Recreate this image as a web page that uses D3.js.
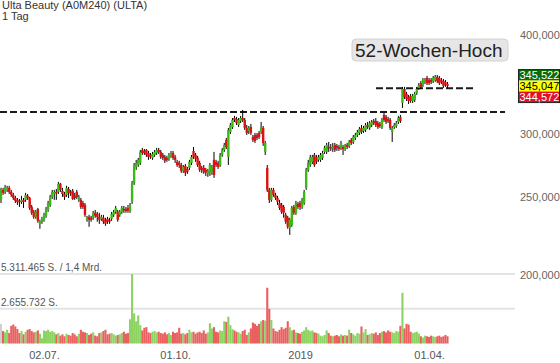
<!DOCTYPE html>
<html><head><meta charset="utf-8">
<script src="https://cdn.jsdelivr.net/npm/d3@7"></script>
<style>html,body{margin:0;padding:0;background:#fff;}svg{display:block;font-family:"Liberation Sans",Arial,sans-serif;}</style>
</head><body><svg id="c" width="560" height="363"></svg>
<script>
const title = "Ulta Beauty (A0M240) (ULTA)";
const subtitle = "1 Tag";
const open = [248.2,255.5,254.0,255.5,257.0,254.0,251.8,249.6,248.2,247.5,
246.8,248.2,248.2,251.1,249.6,243.2,239.7,236.3,241.8,231.6,
233.0,234.3,237.0,241.1,244.6,250.4,252.5,254.0,254.0,260.0,
254.8,252.5,251.8,256.2,254.0,254.8,251.1,254.0,248.2,248.2,
246.0,244.6,234.3,236.3,235.7,235.7,239.1,238.4,236.3,235.0,
235.7,234.3,235.0,234.3,235.0,237.7,239.7,239.7,237.7,239.7,
241.8,241.8,242.5,240.4,246.8,260.7,273.1,274.6,276.2,286.8,
286.0,286.8,284.3,282.7,280.3,282.7,284.3,286.8,285.2,282.7,
281.1,280.3,279.5,281.9,284.3,281.1,277.1,276.2,274.6,269.9,
273.8,271.5,272.3,276.2,286.0,282.7,280.3,276.2,272.3,272.3,
270.7,267.6,268.4,269.2,278.7,277.1,276.2,274.6,282.7,286.8,
295.2,281.1,302.1,306.5,314.6,313.7,308.3,311.9,314.6,312.8,
305.7,303.0,306.5,297.8,299.5,299.5,301.3,302.1,305.7,285.2,
272.3,255.5,248.2,255.5,251.8,249.6,246.0,244.6,243.2,237.7,
235.7,228.9,230.9,243.2,239.1,245.3,246.0,243.2,246.0,257.0,
270.7,274.6,277.1,282.7,281.1,278.7,278.7,280.3,285.2,285.2,
289.3,289.3,288.5,291.0,290.2,289.3,288.5,289.3,287.6,291.0,
290.2,295.2,293.5,296.9,299.5,301.3,305.7,303.0,303.9,308.3,
305.7,308.3,311.9,311.9,310.1,309.2,306.5,317.4,315.6,313.7,
312.8,302.1,306.5,307.4,311.0,315.6,328.6,342.2,337.3,334.4,
335.3,330.5,331.4,338.3,343.2,348.1,346.1,349.2,353.2,351.2,
351.2,350.2,351.2,354.2,353.2,351.2,350.2,349.2,347.1];
const close = [255.5,253.3,257.7,257.0,254.0,251.8,249.6,247.5,246.8,246.8,
248.2,246.8,251.8,249.6,242.5,239.1,236.3,239.7,233.6,233.0,
235.0,237.7,241.8,246.0,250.4,254.0,254.0,253.3,260.0,255.5,
252.5,250.4,257.0,253.3,253.3,248.9,249.6,250.4,250.4,243.2,
243.2,237.7,235.7,234.3,234.3,239.1,237.0,236.3,234.3,236.3,
233.0,231.6,233.0,233.0,238.4,239.7,242.5,234.3,239.7,242.5,
241.1,240.4,240.4,244.6,260.7,274.6,276.2,278.7,285.2,284.3,
284.3,282.7,281.1,281.1,283.5,285.2,286.8,285.2,281.1,280.3,
277.9,278.7,282.7,284.3,280.3,278.7,274.6,274.6,269.9,273.1,
268.4,269.2,277.1,281.1,281.1,279.5,274.6,270.7,270.7,269.2,
268.4,269.9,274.6,273.1,266.8,274.6,273.1,282.7,286.8,291.0,
289.3,303.9,308.3,312.8,312.8,310.1,312.8,314.6,312.8,305.7,
301.3,305.7,301.3,295.2,294.4,296.9,297.8,306.5,292.7,292.7,
255.5,248.2,255.5,251.8,249.6,246.8,242.5,239.7,239.1,233.0,
229.6,234.3,242.5,239.1,246.0,243.2,243.2,248.2,254.0,270.7,
276.2,281.1,281.1,274.6,277.1,281.1,282.7,284.3,288.5,291.0,
288.5,288.5,289.3,286.8,288.5,287.6,292.7,287.6,290.2,289.3,
293.5,292.7,297.8,299.5,302.1,304.8,302.1,305.7,308.3,306.5,
310.1,311.0,310.1,308.3,306.5,307.4,312.8,312.8,311.0,311.9,
305.7,305.7,308.3,310.1,314.6,311.9,342.2,334.4,332.4,330.5,
330.5,335.3,337.3,342.2,346.1,344.2,351.2,351.2,348.1,348.1,
349.2,353.2,354.2,350.2,348.1,349.2,345.1,346.1,345.047];
const high = [257.0,257.0,259.2,258.5,258.5,255.5,253.3,251.1,249.6,248.9,
251.1,249.6,253.3,252.5,250.4,244.6,241.1,241.1,242.5,234.3,
236.3,239.1,243.2,247.5,251.8,255.5,255.5,256.2,261.5,260.7,
257.0,254.0,258.5,257.7,255.5,256.2,253.3,255.5,251.8,249.6,
247.5,246.0,237.0,237.7,237.0,240.4,241.1,239.7,239.1,237.7,
237.7,235.7,236.3,235.7,239.7,241.1,243.9,241.1,241.1,243.9,
243.9,243.2,244.6,246.0,262.2,276.2,278.7,280.3,286.8,288.5,
287.6,287.6,286.0,284.3,285.2,286.8,288.5,288.5,286.8,284.3,
282.7,281.9,284.3,286.0,286.0,282.7,278.7,277.9,276.2,274.6,
275.4,273.1,278.7,282.7,289.3,284.3,281.9,277.9,273.8,274.6,
272.3,271.5,276.2,274.6,285.2,278.7,277.9,284.3,288.5,292.7,
296.9,305.7,310.1,314.6,316.5,315.6,314.6,316.5,322.0,314.6,
308.3,307.4,309.2,299.5,301.3,301.3,303.0,311.0,307.4,294.4,
274.6,257.0,257.0,257.0,253.3,251.1,248.2,246.0,244.6,239.1,
237.0,235.7,243.9,244.6,247.5,246.8,247.5,249.6,255.5,272.3,
278.7,282.7,282.7,284.3,282.7,282.7,284.3,286.0,290.2,292.7,
293.5,291.8,292.7,292.7,291.8,291.0,294.4,291.0,291.8,292.7,
295.2,296.9,299.5,301.3,303.9,306.5,308.3,307.4,310.1,311.0,
311.9,312.8,313.7,314.6,311.9,311.0,314.6,319.2,317.4,315.6,
314.6,307.4,310.1,311.9,316.5,317.4,344.2,344.2,339.3,336.3,
337.3,337.3,339.3,344.2,348.1,350.2,353.2,353.2,355.3,353.2,
353.2,355.3,356.3,356.3,355.3,353.2,352.2,351.2,349.2];
const low = [246.0,251.8,252.5,254.0,252.5,250.4,248.2,246.0,244.6,243.2,
245.3,242.5,246.8,248.2,241.1,237.7,235.0,235.0,232.3,228.3,
231.6,233.0,235.7,239.7,243.2,248.9,248.2,248.2,252.5,254.0,
250.4,248.2,250.4,249.6,251.1,248.2,248.2,248.9,246.8,241.8,
241.8,236.3,233.0,229.6,233.0,234.3,235.7,233.0,231.6,233.6,
231.6,230.3,231.6,231.6,233.6,236.3,238.4,233.0,236.3,238.4,
239.1,239.1,239.1,239.1,245.3,259.2,270.7,273.1,274.6,282.7,
282.7,281.1,278.7,279.5,278.7,281.1,282.7,283.5,279.5,278.7,
276.2,277.1,277.9,280.3,278.7,276.2,273.1,272.3,268.4,268.4,
266.0,267.6,270.7,274.6,279.5,277.1,273.1,269.2,268.4,267.6,
266.0,265.3,266.0,266.8,264.5,273.1,271.5,273.1,281.1,285.2,
287.6,274.6,300.4,304.8,311.0,308.3,306.5,310.1,311.0,303.9,
299.5,300.4,299.5,293.5,292.7,295.2,296.1,300.4,290.2,282.7,
254.0,246.0,246.8,250.4,248.2,244.6,241.1,238.4,235.7,231.6,
228.3,224.3,229.6,237.7,237.7,241.8,241.1,241.8,244.6,255.5,
269.2,273.1,275.4,273.1,275.4,277.1,277.1,278.7,283.5,283.5,
285.2,286.0,285.2,285.2,286.0,286.0,286.8,282.7,286.0,287.6,
288.5,291.0,291.8,295.2,297.8,299.5,300.4,301.3,302.1,304.8,
303.9,306.5,308.3,306.5,304.8,305.7,304.8,311.0,309.2,310.1,
303.9,293.5,304.8,305.7,309.2,310.1,323.9,332.4,330.5,327.6,
328.6,328.6,329.5,336.3,341.2,342.2,344.2,347.1,346.1,346.1,
347.1,348.1,349.2,348.1,346.1,347.1,343.2,344.2,343.2];
// volume in millions of shares
const volume = [1.49,0.95,0.85,1.05,0.80,1.35,1.45,1.30,1.10,0.80,
0.95,0.70,0.90,1.05,1.10,0.95,0.85,0.90,1.00,0.75,
0.40,1.00,0.95,1.05,0.90,0.95,0.85,0.70,0.80,0.60,
0.70,0.55,0.75,0.65,0.60,0.80,0.70,0.55,0.75,1.05,
0.90,0.85,0.80,0.65,0.75,0.85,0.60,0.55,0.80,0.85,
0.95,1.05,0.70,0.75,0.80,0.70,0.60,0.65,0.70,0.80,
0.90,0.75,0.80,1.85,5.31,2.30,1.70,2.15,1.40,1.00,
1.20,1.25,0.85,0.80,0.90,0.95,0.85,0.90,0.80,0.75,
0.85,0.70,0.80,0.65,0.90,0.80,0.85,1.20,0.75,0.80,
0.70,0.80,1.05,0.85,0.90,0.75,0.85,0.90,0.80,1.00,
0.75,0.85,1.55,1.15,1.25,0.90,0.85,1.00,0.95,1.70,
1.65,2.05,1.40,1.10,1.00,0.90,0.85,0.75,0.95,1.05,
0.65,0.85,1.15,1.60,1.50,1.35,1.50,1.70,1.80,1.75,
4.26,2.65,1.80,1.15,0.95,0.90,1.05,1.25,1.10,1.20,
1.70,1.25,1.00,1.05,0.85,0.80,0.75,0.90,1.00,1.25,
1.05,0.95,1.00,0.85,0.80,0.75,0.60,0.55,0.65,1.00,
0.80,0.60,0.55,0.60,0.65,0.55,0.70,0.60,0.65,0.60,
1.05,0.80,0.70,0.60,0.80,0.75,1.30,0.85,1.10,0.65,
0.70,0.80,0.75,0.85,0.65,0.80,0.90,0.95,0.85,1.00,
0.90,0.85,0.80,0.95,0.90,1.35,3.88,1.15,1.50,1.45,
0.90,0.80,0.85,0.90,0.75,0.55,0.45,0.60,0.55,0.50,
0.60,0.55,0.50,0.55,0.60,0.50,0.55,0.65,0.55];
const xTickIdx = [21, 85, 146, 209];
const xTickLabels = ["02.07.", "01.10.", "2019", "01.04."];
const priceTicks = [400, 300, 250, 200];
const volTicks = [5.311465, 2.655732];
const volTickLabels = ["5.311.465 S. / 1,4 Mrd.", "2.655.732 S."];
const resistanceLow = 320.0;
const resistanceHigh = 342.8;
const quoteValues = [345.522, 345.047, 344.572];
const quoteColors = ["#086d08", "#ffff00", "#e0102a"];
const quoteText = ["#ffffff", "#000000", "#ffffff"];
const highLabel = "52-Wochen-Hoch";

const svg = d3.select("#c");
const N = close.length;
const x = d3.scaleLinear().domain([0, N - 1]).range([1, 447.5]);
const y = d3.scaleLog().domain([200, 400]).range([274.5, 35]);
const yv = d3.scaleLinear().domain([0, 5.311465]).range([343.5, 274]);
const de = d3.formatLocale({decimal: ",", thousands: ".", grouping: [3], currency: ["", "€"]});
const fmt3 = de.format(".3f");

// title
svg.append("text").attr("x", 2).attr("y", 9).attr("font-size", 11).attr("fill", "#333").text(title);
svg.append("text").attr("x", 2).attr("y", 20).attr("font-size", 11).attr("fill", "#333").text(subtitle);

// volume grid lines
svg.append("g").selectAll("line").data(volTicks).join("line")
  .attr("x1", 0).attr("x2", 515).attr("y1", d => yv(d)).attr("y2", d => yv(d))
  .attr("stroke", "#e4e4e4").attr("stroke-width", 2);
svg.append("g").selectAll("text").data(volTicks).join("text")
  .attr("x", 1).attr("y", d => yv(d) - 3).attr("font-size", 10).attr("fill", "#555")
  .text((d, i) => volTickLabels[i]);

// volume bars
const idx = d3.range(N);
svg.append("g").selectAll("rect").data(idx).join("rect")
  .attr("x", i => x(i) - 1.05).attr("width", 2.1)
  .attr("y", i => yv(volume[i])).attr("height", i => yv(0) - yv(volume[i]))
  .attr("fill", i => i === 0 ? "#cfcfcf" : (close[i] >= open[i] ? "#8cd364" : "#ea5f5f"));

// dashed resistance lines
svg.append("line").attr("x1", 0).attr("x2", 505)
  .attr("y1", y(resistanceLow)).attr("y2", y(resistanceLow))
  .attr("stroke", "#1a1a1a").attr("stroke-width", 2).attr("stroke-dasharray", "7,3");
svg.append("line").attr("x1", 376).attr("x2", 473)
  .attr("y1", y(resistanceHigh)).attr("y2", y(resistanceHigh))
  .attr("stroke", "#1a1a1a").attr("stroke-width", 2).attr("stroke-dasharray", "7,3");

// wicks
svg.append("g").selectAll("line").data(idx).join("line")
  .attr("x1", i => x(i)).attr("x2", i => x(i))
  .attr("y1", i => y(high[i])).attr("y2", i => y(low[i]))
  .attr("stroke", "#000").attr("stroke-width", 1);
// bodies
svg.append("g").selectAll("rect").data(idx).join("rect")
  .attr("x", i => x(i) - 1.2).attr("width", 2.4)
  .attr("y", i => y(Math.max(open[i], close[i])))
  .attr("height", i => Math.max(1.5, Math.abs(y(open[i]) - y(close[i]))))
  .attr("fill", i => close[i] >= open[i] ? "#3db815" : "#dd1111");

// price axis
const ay = svg.append("g").attr("transform", "translate(518,0)")
  .call(d3.axisRight(y).tickValues(priceTicks).tickSize(0).tickPadding(2).tickFormat(d => fmt3(d)));
ay.select(".domain").remove();
ay.selectAll("text").attr("font-size", 11).attr("fill", "#666").attr("font-family", "Liberation Sans, Arial, sans-serif");

// x axis
const ax = svg.append("g").attr("transform", "translate(0,348)")
  .call(d3.axisBottom(x).tickValues(xTickIdx).tickSize(0).tickPadding(3).tickFormat((d, i) => xTickLabels[i]));
ax.select(".domain").remove();
ax.selectAll("text").attr("font-size", 11).attr("fill", "#555").attr("font-family", "Liberation Sans, Arial, sans-serif");

// 52-week high label
const hl = svg.append("g");
hl.append("rect").attr("x", 352).attr("y", 39).attr("width", 156).attr("height", 22).attr("rx", 4)
  .attr("fill", "#e6e6e6").attr("stroke", "#d2d2d2");
hl.append("text").attr("x", 355).attr("y", 56.7).attr("font-size", 19).attr("fill", "#222").text(highLabel);

// quote boxes
const yc = y(quoteValues[1]);
const qTop = [yc - 16.5, yc - 5.5, yc + 5.5];
const qg = svg.append("g");
qg.selectAll("rect").data(quoteValues).join("rect")
  .attr("x", 518).attr("width", 42).attr("y", (d, i) => qTop[i]).attr("height", 11)
  .attr("fill", (d, i) => quoteColors[i]);
qg.append("rect").attr("x", 518.5).attr("y", qTop[0]).attr("width", 41).attr("height", 33)
  .attr("fill", "none").attr("stroke", "#222").attr("stroke-width", 1);
qg.selectAll("text").data(quoteValues).join("text")
  .attr("x", 519.5).attr("y", (d, i) => qTop[i] + 9.5).attr("font-size", 11)
  .attr("fill", (d, i) => quoteText[i]).text(d => fmt3(d));
</script></body></html>
